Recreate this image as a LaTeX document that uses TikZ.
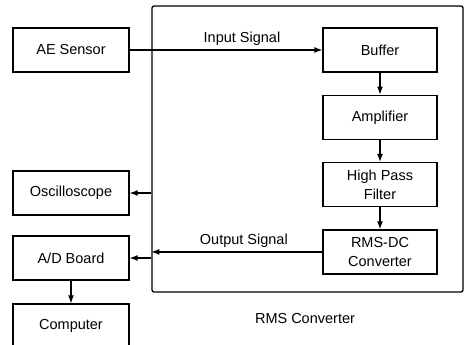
\documentclass[tikz,border=0pt]{standalone}
\usepackage{fontspec}
\setmainfont{Liberation Sans}
\usepackage{tikz}
\usetikzlibrary{arrows.meta,positioning}
\tikzset{
  block/.style={draw=black, line width=1.3pt, align=center, fill=white,
    minimum width=114pt, minimum height=44pt, inner sep=2pt},
  sidebox/.style={block, minimum width=116pt},
  frame/.style={draw=black, line width=1.3pt, rounded corners=2pt,
    minimum width=311pt, minimum height=286pt},
  arr/.style={-{Latex[length=8pt,width=6pt]}, line width=1.2pt},
  lbl/.style={inner sep=1pt}
}

\begin{document}
\begin{tikzpicture}[x=1pt, y=-1pt, font=\fontsize{14.5}{19.5}\selectfont, node distance=22pt]
  \useasboundingbox (0,0) rectangle (466,345);
  % RMS converter frame
  \node[frame] (rms) at (307.5,149) {};
  \node[lbl] (rmslabel) at (305,319) {RMS Converter};
  % inside the converter
  \node[block] (buf) at (380,50) {Buffer};
  \node[block, below=of buf] (amp) {Amplifier};
  \node[block, below=of amp] (hpf) {High Pass\\Filter};
  \node[block, below=of hpf] (rmsdc) {RMS-DC\\Converter};
  % outside
  \node[sidebox] (ae) at (71,50) {AE Sensor};
  \node[sidebox] (osc) at (71,193) {Oscilloscope};
  \node[sidebox] (ad) at (71,258) {A/D Board};
  \node[sidebox] (pc) at (71,326) {Computer};
  % signals
  \draw[arr] (ae) -- node[lbl, above=3pt, xshift=16pt] {Input Signal} (buf);
  \draw[arr] (buf) -- (amp);
  \draw[arr] (amp) -- (hpf);
  \draw[arr] (hpf) -- (rmsdc);
  \coordinate (out) at (rms.west |- rmsdc.west);
  \draw[arr] (rmsdc) -- node[lbl, above=3pt, xshift=7pt] {Output Signal} (out);
  \draw[arr] (rms.west |- osc.east) -- (osc);
  \draw[arr] (rms.west |- ad.east) -- (ad);
  \draw[arr] (ad) -- (pc);
\end{tikzpicture}
\end{document}
